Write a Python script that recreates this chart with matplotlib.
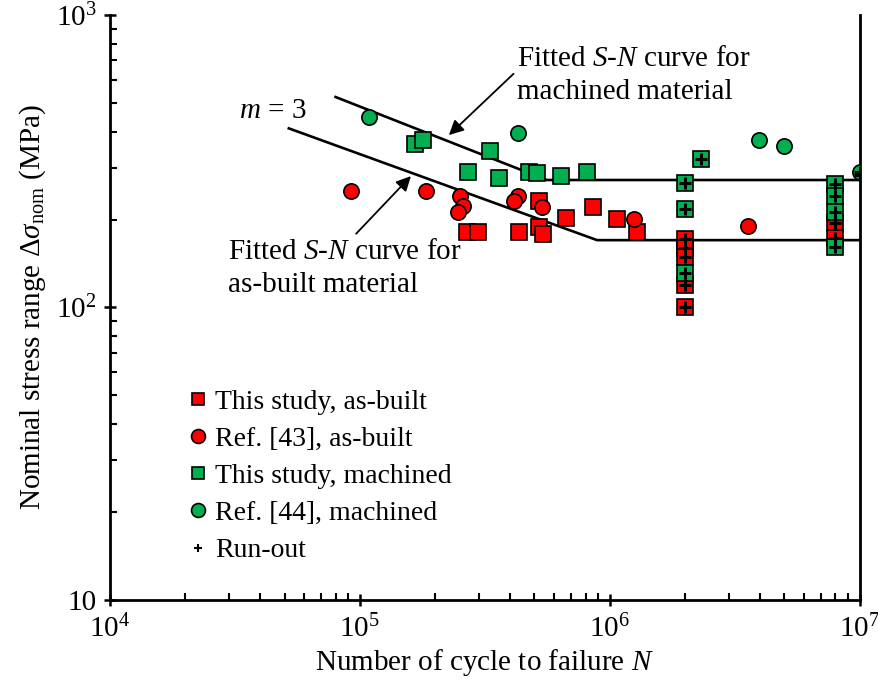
import matplotlib
matplotlib.use("Agg")
import matplotlib.pyplot as plt
from matplotlib.lines import Line2D
from matplotlib.ticker import LogLocator, NullFormatter, FuncFormatter
import numpy as np

plt.rcParams["font.family"] = ["Liberation Serif", "DejaVu Serif"]
plt.rcParams["mathtext.fontset"] = "custom"
plt.rcParams["mathtext.rm"] = "Liberation Serif"
plt.rcParams["mathtext.it"] = "Liberation Serif:italic"

RED = "#ff0000"
GREEN = "#00b050"

# This study, as-built (failed)
ab_N = [2.68e5, 2.96e5, 4.32e5, 5.2e5, 5.2e5, 5.4e5, 6.67e5, 8.55e5, 1.07e6, 1.29e6]
ab_S = [181, 181, 181, 231, 188, 178, 202, 221, 201, 181]
# This study, as-built (run-out)
ab_ro_N = [2e6, 2e6, 2e6, 2e6, 2e6, 8e6, 8e6]
ab_ro_S = [171, 160, 149, 119, 100, 195, 173]
# Ref. [43], as-built
r43_N = [9.2e4, 1.84e5, 2.51e5, 2.58e5, 2.47e5, 4.29e5, 4.13e5, 5.35e5, 1.25e6, 3.56e6]
r43_S = [250, 250, 240, 222, 212, 240, 231, 221, 201, 190]
# This study, machined (failed)
mc_N = [1.67e5, 1.79e5, 2.70e5, 3.31e5, 3.60e5, 4.74e5, 5.1e5, 6.37e5, 8.09e5]
mc_S = [362, 374, 291, 343, 277, 291, 288, 282, 291]
# This study, machined (run-out)
mc_ro_N = [2.31e6, 2e6, 2e6, 2e6, 8e6, 8e6, 8e6, 8e6]
mc_ro_S = [322, 266, 217, 131, 264, 240, 212, 161]
# Ref. [44], machined
r44_N = [1.09e5, 4.29e5, 3.94e6, 4.97e6]
r44_S = [448, 395, 374, 356]
# Ref. [44], machined (run-out)
r44_ro_N = [1e7, 1e7]
r44_ro_S = [290, 285]

# fitted S-N curves (start, knee, end)
fit_mc_N = [8.0e4, 5.6e5, 1e7]
fit_mc_S = [525, 273, 273]
fit_ab_N = [5.2e4, 8.9e5, 1e7]
fit_ab_S = [410, 170, 170]

fig = plt.figure(figsize=(8.79, 6.91), dpi=100)
ax = fig.add_axes([0.125, 0.132, 0.853, 0.846])
ax.set_xscale("log")
ax.set_yscale("log")
ax.set_xlim(1e4, 1e7)
ax.set_ylim(10, 1000)

ax.plot(fit_mc_N, fit_mc_S, color="k", lw=1.9, zorder=2)
ax.plot(fit_ab_N, fit_ab_S, color="k", lw=1.9, zorder=2)

mk = dict(ls="none", ms=11, mec="k", mew=1.2)
ax.plot(ab_N, ab_S, marker="s", mfc=RED, zorder=3, **mk)
ax.plot(ab_ro_N, ab_ro_S, marker="s", mfc=RED, zorder=3, **mk)
ax.plot(r43_N, r43_S, marker="o", mfc=RED, zorder=3, **mk)
ax.plot(mc_N, mc_S, marker="s", mfc=GREEN, zorder=4, **mk)
ax.plot(mc_ro_N, mc_ro_S, marker="s", mfc=GREEN, zorder=4, **mk)
ax.plot(r44_N, r44_S, marker="o", mfc=GREEN, zorder=4, **mk)
ax.plot(r44_ro_N[:1], r44_ro_S[:1], marker="o", mfc=GREEN, zorder=4, **mk)

ro_N = ab_ro_N + mc_ro_N + r44_ro_N
ro_S = ab_ro_S + mc_ro_S + r44_ro_S
ax.plot(ro_N, ro_S, ls="none", marker="+", ms=8, mew=2.2, color="k", zorder=5)

# annotations
ax.annotate("", xy=(2.23e5, 383), xytext=(4.2e5, 640),
            arrowprops=dict(arrowstyle="-|>", color="k", lw=1.3, mutation_scale=22))
ax.annotate("", xy=(1.63e5, 286), xytext=(9.5e4, 176),
            arrowprops=dict(arrowstyle="-|>", color="k", lw=1.3, mutation_scale=22))
ax.text(4.25e5, 785, "Fitted $S$-$N$ curve for\nmachined material", fontsize=21,
        ha="left", va="top", linespacing=1.35)
ax.text(2.97e4, 172, "Fitted $S$-$N$ curve for\nas-built material", fontsize=21,
        ha="left", va="top", linespacing=1.35)
ax.text(3.3e4, 470, "$m$ = 3", fontsize=21, ha="left", va="center")

# axes styling
for side in ["left", "bottom", "right"]:
    ax.spines[side].set_linewidth(2.0)
ax.spines["top"].set_visible(False)

def fmt(v, pos):
    e = int(round(np.log10(v)))
    if e == 1:
        return "10"
    return "$10^{%d}$" % e

ax.xaxis.set_major_formatter(FuncFormatter(fmt))
ax.yaxis.set_major_formatter(FuncFormatter(fmt))
ax.xaxis.set_minor_formatter(NullFormatter())
ax.yaxis.set_minor_formatter(NullFormatter())
ax.xaxis.set_minor_locator(LogLocator(base=10, subs=np.arange(2, 10), numticks=20))
ax.yaxis.set_minor_locator(LogLocator(base=10, subs=np.arange(2, 10), numticks=20))
ax.tick_params(which="major", direction="inout", length=9, width=1.8, labelsize=21, pad=6)
ax.tick_params(which="minor", direction="in", length=5, width=1.5)
ax.tick_params(axis="y", which="major", pad=5)

ax.set_xlabel("Number of cycle to failure $N$", fontsize=21, labelpad=3)
ax.set_ylabel(r"Nominal stress range $\Delta\sigma_{\rm nom}$ (MPa)", fontsize=21, labelpad=6)

handles = [
    Line2D([], [], ls="none", marker="s", ms=9, mfc=RED, mec="k", mew=1.2),
    Line2D([], [], ls="none", marker="o", ms=10, mfc=RED, mec="k", mew=1.2),
    Line2D([], [], ls="none", marker="s", ms=9, mfc=GREEN, mec="k", mew=1.2),
    Line2D([], [], ls="none", marker="o", ms=10, mfc=GREEN, mec="k", mew=1.2),
    Line2D([], [], ls="none", marker="+", ms=6, mew=1.5, color="k"),
]
labels = ["This study, as-built", "Ref. [43], as-built", "This study, machined",
          "Ref. [44], machined", "Run-out"]
ax.legend(handles, labels, loc="upper left", bbox_to_anchor=(0.105, 0.36), frameon=False,
          fontsize=20, handlelength=0.7, handletextpad=0.25, labelspacing=0.42,
          borderaxespad=0, borderpad=0)

fig.savefig("out.png", dpi=100)
